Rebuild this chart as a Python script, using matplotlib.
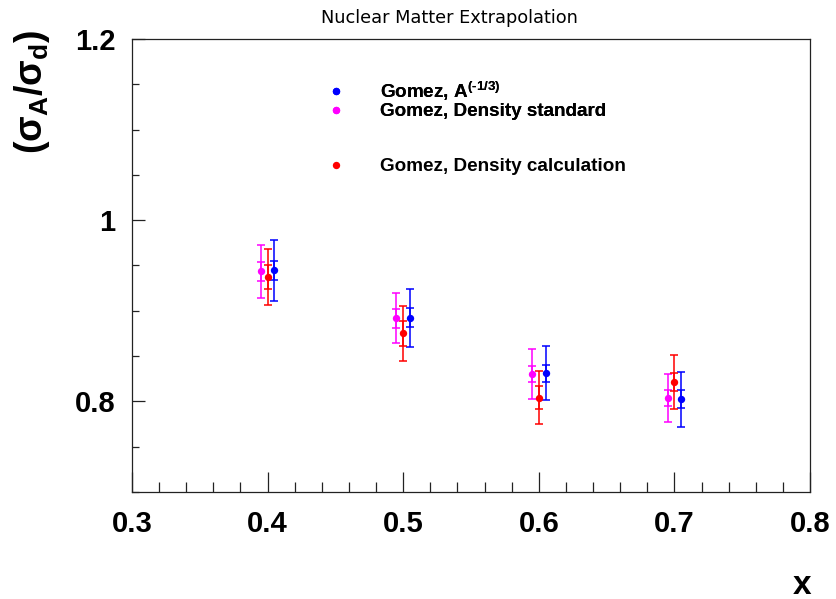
import matplotlib
matplotlib.use("Agg")
import matplotlib.pyplot as plt
from matplotlib.lines import Line2D
from matplotlib.ticker import MultipleLocator, FixedLocator

# ---- data ----
x_a13 = [0.405, 0.505, 0.605, 0.705]
y_a13 = [0.9445, 0.8924, 0.8311, 0.8022]
stat_a13 = [0.0108, 0.0104, 0.0095, 0.0100]
tot_a13 = [0.034, 0.032, 0.030, 0.030]

x_std = [0.395, 0.495, 0.595, 0.695]
y_std = [0.9434, 0.8916, 0.8303, 0.8041]
stat_std = [0.0103, 0.0105, 0.0093, 0.0090]
tot_std = [0.029, 0.0275, 0.028, 0.0265]

x_calc = [0.400, 0.500, 0.600, 0.700]
y_calc = [0.9369, 0.8752, 0.8041, 0.8212]
stat_calc = [0.0133, 0.0140, 0.0126, 0.0100]
tot_calc = [0.031, 0.0303, 0.029, 0.030]

labels = [r"Gomez, A$^{(\text{-}1/3)}$", "Gomez, Density standard", "Gomez, Density calculation"]
colors = ["#0000ff", "#ff00ff", "#ff0000"]
x_ticks = [0.3, 0.4, 0.5, 0.6, 0.7, 0.8]
y_ticks = [0.8, 1.0, 1.2]
y_ticklabels = ["0.8", "1", "1.2"]

plt.rcParams["mathtext.fontset"] = "custom"
plt.rcParams["mathtext.rm"] = "Liberation Sans:bold"
plt.rcParams["mathtext.it"] = "Liberation Sans:bold"
plt.rcParams["mathtext.bf"] = "Liberation Sans:bold"

W, H = 836, 599
fig = plt.figure(figsize=(W / 100, H / 100), dpi=100)
L, R, T, B = 132, 810, 39, 492
ax = fig.add_axes([L / W, 1 - B / H, (R - L) / W, (B - T) / H])

series = [
    (x_a13, y_a13, stat_a13, tot_a13, colors[0]),
    (x_std, y_std, stat_std, tot_std, colors[1]),
    (x_calc, y_calc, stat_calc, tot_calc, colors[2]),
]
for xs, ys, st, tt, c in series:
    ax.errorbar(xs, ys, yerr=tt, fmt="none", ecolor=c, elinewidth=1.3,
                capsize=3.0, capthick=1.3, alpha=0.85, zorder=2)
    ax.errorbar(xs, ys, yerr=st, fmt="none", ecolor=c, elinewidth=1.3,
                capsize=3.0, capthick=1.3, alpha=0.85, zorder=2)
    ax.plot(xs, ys, "o", color=c, markersize=5.3, markeredgewidth=0, zorder=3)

ax.set_xlim(0.3, 0.8)
ax.set_ylim(0.7, 1.2)
ax.xaxis.set_major_locator(FixedLocator(x_ticks))
ax.xaxis.set_minor_locator(MultipleLocator(0.02))
ax.yaxis.set_major_locator(FixedLocator(y_ticks))
ax.yaxis.set_minor_locator(MultipleLocator(0.05))
ax.set_xticklabels([f"{v:.1f}" for v in x_ticks])
ax.set_yticklabels(y_ticklabels)

ax.tick_params(axis="both", which="both", direction="in", top=False, right=False,
               width=0.9, color="#222222")
ax.tick_params(axis="x", which="major", length=14.4, pad=13)
ax.tick_params(axis="x", which="minor", length=7.2)
ax.tick_params(axis="y", which="major", length=9.7, pad=12)
ax.tick_params(axis="y", which="minor", length=4.9)
for lab in ax.get_xticklabels() + ax.get_yticklabels():
    lab.set_fontfamily("Liberation Sans")
    lab.set_fontweight("bold")
    lab.set_fontsize(21)
for sp in ax.spines.values():
    sp.set_linewidth(0.9)
    sp.set_color("#222222")

fig.text(449 / W, 1 - 18 / H, "Nuclear Matter Extrapolation", ha="center", va="center",
         fontsize=12.8, family="DejaVu Sans")
fig.text(32 / W, 1 - 92 / H, r"$(\sigma_A/\sigma_d)$", rotation=90, ha="center",
         va="center", fontsize=27)
fig.text(802 / W, 1 - 585 / H, "x", ha="center", va="center", fontsize=24,
         family="Liberation Sans", fontweight="bold")

handles = [Line2D([], [], ls="none", marker="o", color=c, markersize=5.3, markeredgewidth=0)
           for c in colors]
prop = {"family": "Liberation Sans", "weight": "bold", "size": 13.6}
leg1 = fig.legend(handles[:2], labels[:2], loc="upper left",
                  bbox_to_anchor=(327 / W, 1 - 80 / H), frameon=False, prop=prop,
                  handlelength=1.0, handletextpad=1.8, labelspacing=0.0,
                  borderpad=0, borderaxespad=0)
leg2 = fig.legend(handles[2:], labels[2:], loc="upper left",
                  bbox_to_anchor=(327 / W, 1 - 158 / H), frameon=False, prop=prop,
                  handlelength=1.0, handletextpad=1.8, borderpad=0, borderaxespad=0)
fig.add_artist(leg1)

fig.savefig("out.png", dpi=100)
